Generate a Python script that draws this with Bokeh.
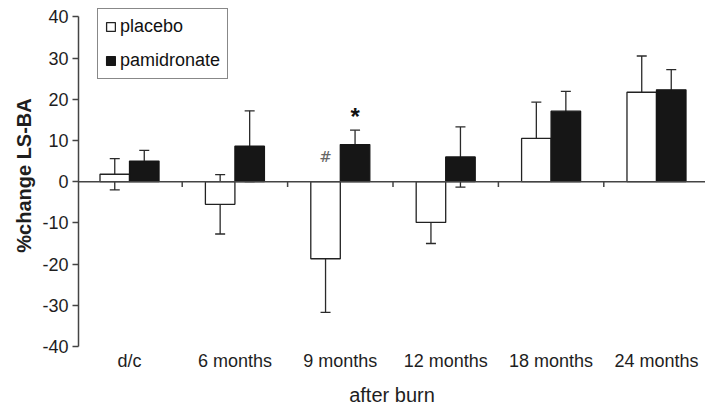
from bokeh.plotting import figure
from bokeh.models import (Range1d, FixedTicker, Whisker, TeeHead, ColumnDataSource,
                          Span, Legend, LegendItem, Label)
from bokeh.embed import file_html
from bokeh.resources import INLINE
import numpy as np

# Percent change in lumbar spine bone area after burn injury
categories = ["d/c", "6 months", "9 months", "12 months", "18 months", "24 months"]
placebo = [1.8, -5.5, -18.7, -9.9, 10.5, 21.7]
placebo_err = [3.8, 7.2, 13.0, 5.1, 8.8, 8.8]
pamidronate = [5.0, 8.6, 9.0, 6.0, 17.1, 22.3]
pamidronate_err = [2.6, 8.6, 3.5, 7.3, 4.8, 4.9]
y_ticks = [-40, -30, -20, -10, 0, 10, 20, 30, 40]

FONT = "Liberation Sans"
AXIS_COLOR = "#444444"
TEXT_COLOR = "#1e1e1e"
BAR_W = 0.28

idx = np.arange(len(categories)) + 0.5
x_pla = idx - BAR_W / 2
x_pam = idx + BAR_W / 2

# the y range runs a little past 40 so the legend box has room above the top tick;
# the axis line itself is bounded to the tick span
p = figure(width=705, height=408, output_backend="svg", toolbar_location=None,
           x_range=Range1d(0.016, 5.965), y_range=Range1d(-40, 43.0),
           min_border_left=78, min_border_right=0, min_border_top=4,
           min_border_bottom=62)
p.outline_line_color = None
p.xgrid.visible = False
p.ygrid.visible = False
p.background_fill_color = "white"
p.border_fill_color = "white"

# y axis
ya = p.yaxis[0]
ya.bounds = (y_ticks[0], y_ticks[-1])
ya.ticker = FixedTicker(ticks=y_ticks)
ya.major_label_overrides = {t: str(t) for t in y_ticks}
ya.axis_line_color = AXIS_COLOR
ya.axis_line_width = 1.5
ya.major_tick_line_color = AXIS_COLOR
ya.major_tick_line_width = 1.5
ya.major_tick_out = 6
ya.major_tick_in = 0
ya.minor_tick_line_color = None
ya.major_label_text_font = FONT
ya.major_label_text_font_size = "18px"
ya.major_label_text_color = TEXT_COLOR
ya.major_label_standoff = 4
ya.axis_label = "%change LS-BA"
ya.axis_label_text_font = FONT
ya.axis_label_text_font_size = "20px"
ya.axis_label_text_font_style = "bold"
ya.axis_label_text_color = TEXT_COLOR
ya.axis_label_standoff = 4

# x axis: category labels only, the zero line carries the ticks
xa = p.xaxis[0]
xa.ticker = FixedTicker(ticks=list(idx))
xa.major_label_overrides = {float(v): c for v, c in zip(idx, categories)}
xa.axis_line_color = None
xa.major_tick_line_color = None
xa.major_tick_out = 0
xa.major_tick_in = 0
xa.minor_tick_line_color = None
xa.major_label_text_font = FONT
xa.major_label_text_font_size = "18px"
xa.major_label_text_color = TEXT_COLOR
xa.major_label_standoff = 4
xa.axis_label = "after burn"
xa.axis_label_text_font = FONT
xa.axis_label_text_font_size = "20px"
xa.axis_label_text_font_style = "normal"
xa.axis_label_text_color = TEXT_COLOR
xa.axis_label_standoff = 10

src = ColumnDataSource(dict(
    x_pla=x_pla, x_pam=x_pam,
    pla=placebo, pam=pamidronate,
    pla_hi=np.array(placebo) + np.array(placebo_err),
    pla_lo=np.array(placebo) - np.array(placebo_err),
    pam_hi=np.array(pamidronate) + np.array(pamidronate_err),
    pam_lo=np.array(pamidronate) - np.array(pamidronate_err),
))

r_pla = p.vbar(x="x_pla", top="pla", bottom=0, width=BAR_W, source=src,
               fill_color="white", line_color="#222222", line_width=1.3)
r_pam = p.vbar(x="x_pam", top="pam", bottom=0, width=BAR_W, source=src,
               fill_color="#161616", line_color="#161616", line_width=1.3)

# zero line with category boundary ticks
p.add_layout(Span(location=0, dimension="width", line_color=AXIS_COLOR, line_width=1.5))
bounds = np.arange(1, len(categories))
p.segment(x0=bounds, x1=bounds, y0=np.zeros(len(bounds)), y1=np.full(len(bounds), -1.3),
          line_color=AXIS_COLOR, line_width=1.5)

for xcol, hi, lo in (("x_pla", "pla_hi", "pla_lo"), ("x_pam", "pam_hi", "pam_lo")):
    p.add_layout(Whisker(source=src, base=xcol, upper=hi, lower=lo, dimension="height",
                         line_color="#2a2a2a", line_width=1.3,
                         upper_head=TeeHead(size=10, line_color="#2a2a2a", line_width=1.3),
                         lower_head=TeeHead(size=10, line_color="#2a2a2a", line_width=1.3)))

# significance markers at 9 months
p.add_layout(Label(x=x_pam[2], y=15.8, text="*", text_font=FONT,
                   text_font_size="24px", text_font_style="bold", text_align="center",
                   text_baseline="middle", text_color="#111111"))
p.add_layout(Label(x=x_pla[2], y=6.0, text="#", text_font="DejaVu Serif",
                   text_font_size="15px", text_align="center",
                   text_baseline="middle", text_color="#666666"))

legend = Legend(items=[LegendItem(label="placebo", renderers=[r_pla]),
                       LegendItem(label="pamidronate", renderers=[r_pam])],
                location=(19, 267), orientation="vertical")
legend.label_text_font = FONT
legend.label_text_font_size = "18px"
legend.label_text_color = "#111111"
legend.glyph_width = 11
legend.glyph_height = 11
legend.label_standoff = 4
legend.label_height = 20
legend.spacing = 13
legend.padding = 7
legend.margin = 0
legend.border_line_color = "#111111"
legend.border_line_width = 1.2
legend.background_fill_alpha = 1
p.add_layout(legend, "center")

open("out.html", "w").write(file_html(p, INLINE))
